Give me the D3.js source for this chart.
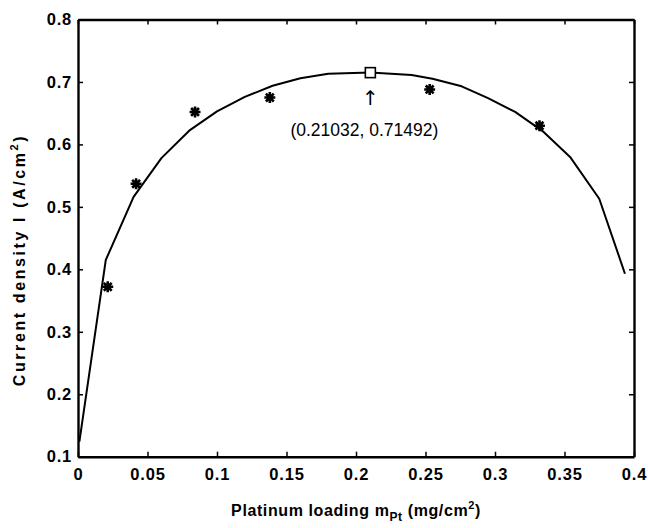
<!DOCTYPE html>
<html>
<head>
<meta charset="utf-8">
<script src="https://cdn.jsdelivr.net/npm/d3@7"></script>
<style>
  body { margin: 0; background: #fff; }
  svg { display: block; font-family: "Liberation Sans", Arial, sans-serif; }
</style>
</head>
<body>
<svg id="plot"></svg>
<script>
const WIDTH = 648;
const HEIGHT = 528;

// fitted curve
const curveX = [0.001, 0.02, 0.04, 0.06, 0.08, 0.10, 0.12, 0.14, 0.16, 0.18, 0.21032, 0.24, 0.255, 0.276, 0.295, 0.3145, 0.335, 0.354, 0.375, 0.3935];
const curveY = [0.124, 0.415, 0.516, 0.578, 0.622, 0.653, 0.676, 0.694, 0.706, 0.713, 0.715, 0.711, 0.705, 0.693, 0.674, 0.652, 0.620, 0.580, 0.513, 0.393];

// measured points
const dataX = [0.0214, 0.0418, 0.0842, 0.138, 0.253, 0.332];
const dataY = [0.372, 0.537, 0.652, 0.675, 0.688, 0.630];

// optimum
const peakX = 0.21032;
const peakY = 0.71492;

const xTicks = [0, 0.05, 0.1, 0.15, 0.2, 0.25, 0.3, 0.35, 0.4];
const yTicks = [0.1, 0.2, 0.3, 0.4, 0.5, 0.6, 0.7, 0.8];

const margin = { left: 78, right: 14, top: 19.5, bottom: 71.3 };

function start() {
    let svg = d3.select('#plot')
        .attr('width', WIDTH)
        .attr('height', HEIGHT);

    svg.append('rect').attr('width', WIDTH).attr('height', HEIGHT).attr('fill', '#fff');

    let xScale = d3.scaleLinear()
        .domain([0, 0.4])
        .range([margin.left, WIDTH - margin.right]);
    let yScale = d3.scaleLinear()
        .domain([0.1, 0.8])
        .range([HEIGHT - margin.bottom, margin.top]);

    const tickLen = 5;
    const fmt = d => d3.format('~g')(d);

    // axes, matlab style: ticks inside, box on all sides
    let gx = svg.append('g')
        .attr('transform', `translate(0, ${yScale(0.1)})`)
        .call(d3.axisBottom(xScale).tickValues(xTicks).tickFormat(fmt).tickSizeInner(-tickLen).tickSizeOuter(0).tickPadding(12));
    let gxTop = svg.append('g')
        .attr('transform', `translate(0, ${yScale(0.8)})`)
        .call(d3.axisTop(xScale).tickValues(xTicks).tickFormat('').tickSizeInner(-tickLen).tickSizeOuter(0));
    let gy = svg.append('g')
        .attr('transform', `translate(${xScale(0)}, 0)`)
        .call(d3.axisLeft(yScale).tickValues(yTicks).tickFormat(fmt).tickSizeInner(-tickLen).tickSizeOuter(0).tickPadding(6));
    let gyRight = svg.append('g')
        .attr('transform', `translate(${xScale(0.4)}, 0)`)
        .call(d3.axisRight(yScale).tickValues(yTicks).tickFormat('').tickSizeInner(-tickLen).tickSizeOuter(0));

    [gx, gxTop, gy, gyRight].forEach(g => {
        g.select('.domain').attr('stroke', '#000').attr('stroke-width', 2.4);
        g.selectAll('.tick line').attr('stroke', '#000').attr('stroke-width', 1.5);
        g.selectAll('.tick text')
            .attr('fill', '#000')
            .attr('font-size', 16.5)
            .attr('font-weight', 'bold')
            .attr('letter-spacing', 0.8)
            .attr('font-family', '"Liberation Sans", Arial, sans-serif');
    });

    // fitted curve
    let line = d3.line()
        .x(i => xScale(curveX[i]))
        .y(i => yScale(curveY[i]));
    svg.append('path')
        .datum(d3.range(curveX.length))
        .attr('d', line)
        .attr('fill', 'none')
        .attr('stroke', '#000')
        .attr('stroke-width', 2)
        .attr('stroke-linejoin', 'round');

    // matlab '*' marker: plus and cross strokes
    const starType = {
        draw(ctx, size) {
            let r = Math.sqrt(size) / 2;
            let d = r * 0.72;
            ctx.moveTo(-r, 0); ctx.lineTo(r, 0);
            ctx.moveTo(0, -r); ctx.lineTo(0, r);
            ctx.moveTo(-d, -d); ctx.lineTo(d, d);
            ctx.moveTo(-d, d); ctx.lineTo(d, -d);
        }
    };
    svg.append('g')
        .selectAll('path')
        .data(d3.range(dataX.length))
        .enter().append('path')
            .attr('transform', i => `translate(${xScale(dataX[i])}, ${yScale(dataY[i])})`)
            .attr('d', d3.symbol().type(starType).size(120))
            .attr('fill', 'none')
            .attr('stroke', '#000')
            .attr('stroke-width', 2.6);

    // optimum marker and annotation
    let px = xScale(peakX), py = yScale(peakY);
    svg.append('rect')
        .attr('x', px - 5).attr('y', py - 5)
        .attr('width', 10).attr('height', 10)
        .attr('fill', '#fff')
        .attr('stroke', '#000')
        .attr('stroke-width', 1.6);
    svg.append('text')
        .attr('x', px).attr('y', py + 32)
        .attr('text-anchor', 'middle')
        .attr('font-size', 20)
        .attr('font-family', '"DejaVu Sans", sans-serif')
        .text('↑');
    svg.append('text')
        .attr('x', px - 6).attr('y', py + 63)
        .attr('text-anchor', 'middle')
        .attr('font-size', 17.5)
        .text(`(${peakX}, ${peakY})`);

    // axis labels
    let xl = svg.append('text')
        .attr('x', (xScale(0) + xScale(0.4)) / 2)
        .attr('y', 516)
        .attr('text-anchor', 'middle')
        .attr('font-size', 16)
        .attr('letter-spacing', 0.6)
        .attr('font-weight', 'bold');
    xl.append('tspan').text('Platinum loading m');
    xl.append('tspan').attr('font-size', 12).attr('dy', 5).text('Pt');
    xl.append('tspan').attr('dy', -5).text(' (mg/cm');
    xl.append('tspan').attr('font-size', 11).attr('dy', -7).text('2');
    xl.append('tspan').attr('dy', 7).text(')');

    let yl = svg.append('text')
        .attr('transform', `translate(25, 260) rotate(-90)`)
        .attr('text-anchor', 'middle')
        .attr('font-size', 16)
        .attr('letter-spacing', 2.6)
        .attr('font-weight', 'bold');
    yl.append('tspan').text('Current density I (A/cm');
    yl.append('tspan').attr('font-size', 11).attr('dy', -7).text('2');
    yl.append('tspan').attr('dy', 7).text(')');
}

window.onload = start;
</script>
</body>
</html>
